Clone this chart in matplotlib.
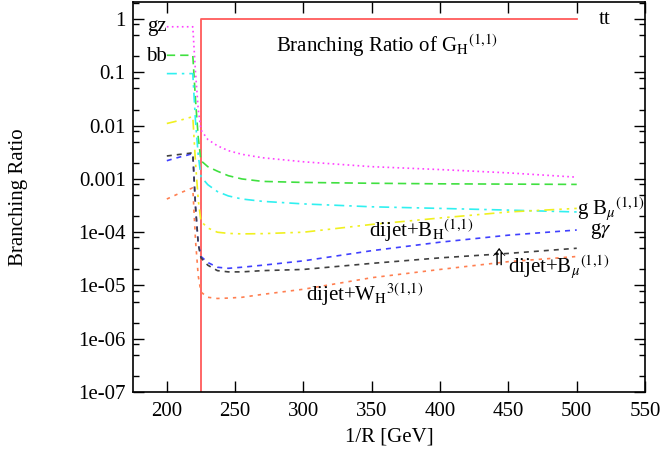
import matplotlib
matplotlib.use('Agg')
import matplotlib.pyplot as plt
import numpy as np
from matplotlib.ticker import FixedLocator, LogLocator, NullFormatter

plt.rcParams['font.family'] = ['Liberation Serif', 'DejaVu Serif']
plt.rcParams['mathtext.fontset'] = 'stix'

# x positions (1/R in GeV) shared by the lighter channels
x_pts = [200, 205, 210, 215, 219, 221, 223, 225, 230, 237, 245, 255, 270, 300, 350, 400, 450, 500]

br_gz = [0.72, 0.72, 0.72, 0.72, 0.72, 0.1, 0.02, 0.0083, 0.0055, 0.0042, 0.0034, 0.0029, 0.0025,
         0.0021, 0.0017, 0.0015, 0.0013, 0.00108]
br_bb = [0.21, 0.21, 0.21, 0.21, 0.21, 0.03, 0.006, 0.0022, 0.0017, 0.0014, 0.00115, 0.001, 0.0009,
         0.00086, 0.00083, 0.00081, 0.0008, 0.00079]
br_cyan = [0.095, 0.095, 0.095, 0.095, 0.095, 0.012, 0.0028, 0.0011, 0.00078, 0.00058, 0.00048,
           0.00042, 0.00038, 0.00034, 0.0003, 0.00028, 0.00026, 0.00024]
br_yel = [0.011, 0.0118, 0.0127, 0.0138, 0.0148, 0.002, 0.0004, 0.00016, 0.00012, 0.0001, 0.000095,
          0.000093, 0.000094, 0.0001, 0.00014, 0.000185, 0.00024, 0.00028]
br_blue = [0.0022, 0.0024, 0.0026, 0.0028, 0.003, 0.0003, 0.00006, 0.000035, 0.000027, 0.000022,
           0.000021, 0.000022, 0.000024, 0.000029, 0.000045, 0.000065, 0.000088, 0.00011]
br_black = [0.0027, 0.0028, 0.0029, 0.003, 0.0031, 0.0003, 0.00006, 0.000033, 0.000024, 0.000019,
            0.000018, 0.000018, 0.000019, 0.00002, 0.000026, 0.000033, 0.00004, 0.00005]
br_orange = [0.00042, 0.00048, 0.00055, 0.00062, 0.00068, 0.00007, 0.000015, 0.0000075, 0.000006,
             0.0000057, 0.0000058, 0.000006, 0.0000068, 0.0000085, 0.000014, 0.00002, 0.000028, 0.000035]

x_tt = [224.7, 224.7, 500]
br_tt = [1e-7, 1.0, 1.0]

y_ticks = [1, 0.1, 0.01, 0.001, 1e-4, 1e-5, 1e-6, 1e-7]
y_tick_labels = ['1', '0.1', '0.01', '0.001', '1e-04', '1e-05', '1e-06', '1e-07']
x_ticks = [200, 250, 300, 350, 400, 450, 500, 550]

fig = plt.figure(figsize=(6.65, 4.66), dpi=100)
ax = fig.add_axes([0.1995, 0.1588, 0.7705, 0.8369])

ax.plot(x_tt, br_tt, color='#ff5a5a', lw=1.3, ls='-')
ax.plot(x_pts, br_gz, color='#ff40ff', lw=1.2, ls=(0, (1, 2)))
ax.plot(x_pts, br_bb, color='#40e040', lw=1.2, ls=(0, (5, 3)))
ax.plot(x_pts, br_cyan, color='#30f0f0', lw=1.2, ls=(0, (6, 3, 1.5, 3)))
ax.plot(x_pts, br_yel, color='#f0f020', lw=1.2, ls=(0, (6, 3, 1.5, 3, 1.5, 3)))
ax.plot(x_pts, br_blue, color='#4040ff', lw=1.2, ls=(0, (3, 3)))
ax.plot(x_pts, br_black, color='#404040', lw=1.2, ls=(0, (3, 3)))
ax.plot(x_pts, br_orange, color='#ff7f50', lw=1.2, ls=(0, (2, 3)))

ax.set_yscale('log')
ax.set_xlim(175, 550)
ax.set_ylim(1e-7, 2.1)
ax.yaxis.set_major_locator(FixedLocator(y_ticks))
ax.set_yticklabels(y_tick_labels)
ax.yaxis.set_minor_locator(LogLocator(base=10, subs=[2, 5, 8]))
ax.yaxis.set_minor_formatter(NullFormatter())
ax.set_xticks(x_ticks)
ax.tick_params(which='both', direction='in', top=True, right=True, labelsize=15)
ax.tick_params(which='major', length=8, width=1)
ax.tick_params(which='minor', length=4, width=1)
ax.tick_params(axis='x', pad=7)
ax.tick_params(axis='y', pad=5)
for s in ax.spines.values():
    s.set_linewidth(1.2)

ax.set_xlabel('1/R [GeV]', fontsize=15, labelpad=5)
ax.set_ylabel('Branching Ratio', fontsize=15, labelpad=36)

fs = 15
sup = r'$^{\rm (1{,}1)}$'
ax.text(200, 0.72, 'gz', fontsize=fs, va='center', ha='right')
ax.text(200, 0.2, 'bb', fontsize=fs, va='center', ha='right')
ax.text(516, 1.0, 'tt', fontsize=fs, va='center')
ax.text(280, 0.32, r'Branching Ratio of G$_{\rm H}$' + sup, fontsize=fs, va='center')
ax.text(500, 0.00027, r'g B$_{\mu}$' + sup, fontsize=fs, va='center')
ax.text(510, 0.000105, r'g$\gamma$', fontsize=fs, va='center')
ax.text(348, 0.000105, r'dijet+B$_{\rm H}$' + sup, fontsize=fs, va='center')
ax.text(442, 0.000035, r'$\Uparrow$', fontsize=fs, va='center', ha='center')
ax.text(450, 0.000022, r'dijet+B$_{\mu}$' + sup, fontsize=fs, va='center')
ax.text(302, 0.0000066, r'dijet+W$_{\rm H}$$^{\rm 3(1{,}1)}$', fontsize=fs, va='center')

fig.savefig('out.png', dpi=100)
